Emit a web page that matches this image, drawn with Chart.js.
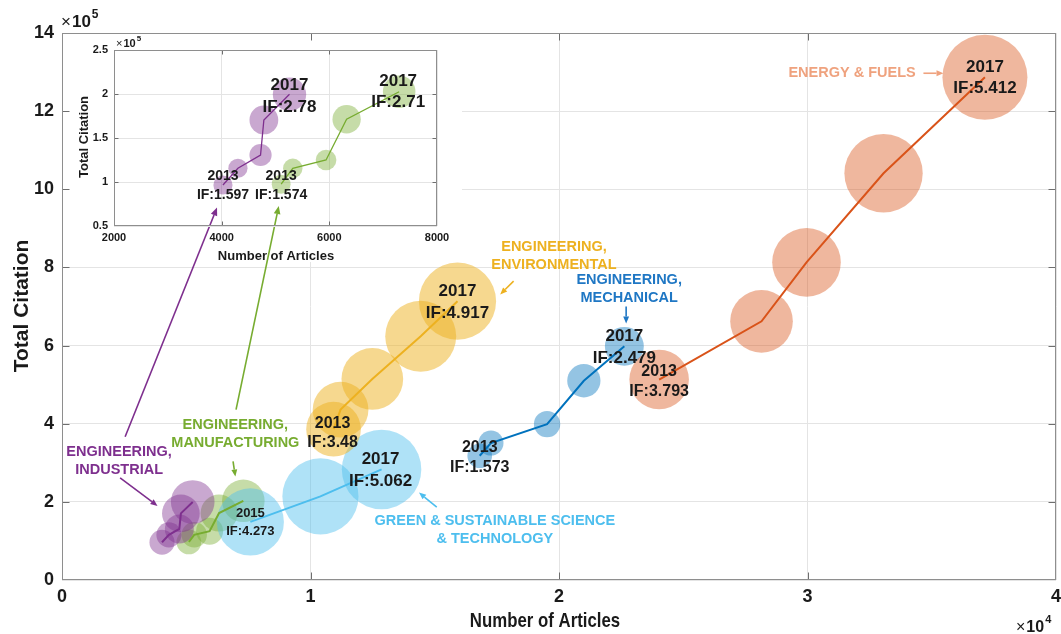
<!DOCTYPE html>
<html>
<head>
<meta charset="utf-8">
<title>Total Citation vs Number of Articles</title>
<script src="https://cdn.jsdelivr.net/npm/chart.js@4.4.1/dist/chart.umd.min.js"></script>
<style>
  html, body { margin: 0; padding: 0; background: #ffffff; }
  #wrap { position: relative; width: 1061px; height: 634px; overflow: hidden; background: #ffffff; }
  #main  { position: absolute; left: 0; top: 0; }
  #inset { position: absolute; left: 63px; top: 34px; }
</style>
</head>
<body>
<div id="wrap">
  <canvas id="main" width="1061" height="634"></canvas>
  <canvas id="inset" width="400" height="229"></canvas>
</div>
<script>
// ---------------- data ----------------
const YEARS = [2013, 2014, 2015, 2016, 2017];
const GSST_YEARS = [2015, 2016, 2017];

// Energy & Fuels
const energyArticles  = [24030, 28150, 29960, 33060, 37140];
const energyCitations = [513000, 662000, 813000, 1041000, 1287000];
const energyIF        = [3.793, 3.99, 4.37, 4.99, 5.412];

// Engineering, Environmental
const envArticles  = [10927, 11210, 12488, 14435, 15915];
const envCitations = [386000, 436000, 514600, 623800, 713600];
const envIF        = [3.48, 3.55, 3.93, 4.52, 4.917];

// Engineering, Mechanical
const mechArticles  = [16810, 17260, 19520, 21000, 22630];
const mechCitations = [318000, 350500, 399000, 510000, 598000];
const mechIF        = [1.573, 1.6, 1.68, 2.12, 2.479];

// Green & Sustainable Science & Technology
const gsstArticles  = [7580, 10400, 12860];
const gsstCitations = [148700, 214000, 283000];
const gsstIF        = [4.273, 4.85, 5.062];

// Engineering, Industrial
const indArticles  = [4024, 4302, 4722, 4784, 5260];
const indCitations = [96600, 115600, 130700, 170500, 199700];
const indIF        = [1.597, 1.6, 1.85, 2.4, 2.78];

// Engineering, Manufacturing
const manArticles  = [5105, 5321, 5939, 6321, 7297];
const manCitations = [97500, 115600, 125000, 171300, 202600];
const manIF        = [1.574, 1.62, 1.72, 2.36, 2.71];

// Axis ticks
const MAIN_X_TICKS  = [0, 10000, 20000, 30000, 40000];
const MAIN_Y_TICKS  = [0, 200000, 400000, 600000, 800000, 1000000, 1200000, 1400000];
const INSET_X_TICKS = [2000, 4000, 6000, 8000];
const INSET_Y_TICKS = [50000, 100000, 150000, 200000, 250000];

// ---------------- styling ----------------
const FONT = "'Liberation Sans', Arial, Helvetica, sans-serif";
const BLACK = '#1a1a1a';
const GRID = '#e4e4e4';
const FRAME = '#8e8e8e';
const TICKMARK = '#6e6e6e';
const MAIN_R_PER_IF = 7.85;   // bubble radius (px) per unit of impact factor
const INSET_R_PER_IF = 6.0;

const SERIES = {
  energy: { articles: energyArticles, citations: energyCitations, impact: energyIF, years: YEARS, line: '#D95319', fill: 'rgba(217,83,25,0.42)' },
  env:    { articles: envArticles,    citations: envCitations,    impact: envIF,    years: YEARS, line: '#EDB120', fill: 'rgba(237,177,32,0.5)' },
  mech:   { articles: mechArticles,   citations: mechCitations,   impact: mechIF,   years: YEARS, line: '#0072BD', fill: 'rgba(0,114,189,0.42)' },
  gsst:   { articles: gsstArticles,   citations: gsstCitations,   impact: gsstIF,   years: GSST_YEARS, line: '#4DBEEE', fill: 'rgba(77,190,238,0.45)' },
  ind:    { articles: indArticles,    citations: indCitations,    impact: indIF,    years: YEARS, line: '#7E2F8E', fill: 'rgba(126,47,142,0.42)' },
  man:    { articles: manArticles,    citations: manCitations,    impact: manIF,    years: YEARS, line: '#77AC30', fill: 'rgba(119,172,48,0.42)' }
};

function seriesDatasets(keys, rScale, lineWidth) {
  const out = [];
  keys.forEach(k => {
    const s = SERIES[k];
    out.push({
      type: 'line',
      data: s.articles.map((a, i) => ({ x: a, y: s.citations[i] })),
      borderColor: s.line, borderWidth: lineWidth,
      pointRadius: 0, fill: false, tension: 0, order: 0
    });
    out.push({
      type: 'bubble',
      data: s.articles.map((a, i) => ({ x: a, y: s.citations[i], r: s.impact[i] * rScale })),
      backgroundColor: s.fill, borderWidth: 0, hoverRadius: 0, order: 1
    });
  });
  return out;
}

// Year / impact-factor captions placed on their bubbles (pixel offsets from the bubble centre)
const MAIN_POINT_LABELS = [
  { key: 'energy', idx: 0, dx: 0,  dy: [-8, 12],    size: 16 },
  { key: 'energy', idx: 4, dx: 0,  dy: [-10, 11],   size: 17 },
  { key: 'env',    idx: 0, dx: -1, dy: [-6, 13],    size: 16 },
  { key: 'env',    idx: 4, dx: 0,  dy: [-10, 12.5], size: 17 },
  { key: 'mech',   idx: 0, dx: 0,  dy: [-8, 12],    size: 16 },
  { key: 'mech',   idx: 4, dx: 0,  dy: [-10, 11.5], size: 17 },
  { key: 'gsst',   idx: 0, dx: 0,  dy: [-8, 10],    size: 13 },
  { key: 'gsst',   idx: 2, dx: -1, dy: [-10, 12],   size: 17 }
];
const INSET_POINT_LABELS = [
  { key: 'ind', idx: 0, dx: 0,  dy: [-9, 10],  size: 14 },
  { key: 'ind', idx: 4, dx: 0,  dy: [-9, 13],  size: 17 },
  { key: 'man', idx: 0, dx: 0,  dy: [-8, 11],  size: 14 },
  { key: 'man', idx: 4, dx: -1, dy: [-10, 11], size: 17 }
];

// Subject-category captions (anchored in data coordinates of the main axes)
const CATEGORY_LABELS = [
  { lines: ['ENERGY & FUELS'], x: 31794, y: 1297000, color: '#EFA27E' },
  { lines: ['ENGINEERING,', 'ENVIRONMENTAL'], x: 19798, y: 829500, color: '#EDB120' },
  { lines: ['ENGINEERING,', 'MECHANICAL'], x: 22823, y: 743600, color: '#1F77C4' },
  { lines: ['GREEN & SUSTAINABLE SCIENCE', '& TECHNOLOGY'], x: 17419, y: 126900, color: '#4DBEEE' },
  { lines: ['ENGINEERING,', 'MANUFACTURING'], x: 6976, y: 374900, color: '#77AC30' },
  { lines: ['ENGINEERING,', 'INDUSTRIAL'], x: 2298, y: 305000, color: '#7E2F8E' }
];

// Pointer arrows: from (x1,y1) to the head at (x2,y2), main data coordinates
const ARROWS = [
  { x1: 34665, y1: 1297000, x2: 35472, y2: 1297000, color: '#EFA27E', head: 7 },
  { x1: 18173, y1: 764900,  x2: 17633, y2: 730800,  color: '#EDB120', head: 7 },
  { x1: 22702, y1: 700000,  x2: 22702, y2: 656400,  color: '#1F77C4', head: 7 },
  { x1: 15081, y1: 186400,  x2: 14367, y2: 223800,  color: '#4DBEEE', head: 7 },
  { x1: 6883,  y1: 303300,  x2: 6976,  y2: 264900,  color: '#77AC30', head: 7 },
  { x1: 2339,  y1: 261500,  x2: 3843,  y2: 189700,  color: '#7E2F8E', head: 7 },
  { x1: 7004,  y1: 435900,  x2: 8722,  y2: 957200,  color: '#77AC30', head: 8 },
  { x1: 2540,  y1: 366700,  x2: 6238,  y2: 953100,  color: '#7E2F8E', head: 8 }
];

// ---------------- drawing helpers ----------------
function drawFrame(chart, xTicks, yTicks, tickLen) {
  const { ctx, chartArea: a, scales: { x, y } } = chart;
  const L = Math.round(a.left) + 0.5, R = Math.round(a.right) - 0.5;
  const T = Math.round(a.top) + 0.5, B = Math.round(a.bottom) - 0.5;
  ctx.save();
  ctx.lineWidth = 1;
  ctx.strokeStyle = TICKMARK;
  ctx.beginPath();
  xTicks.forEach(v => {
    const px = Math.round(x.getPixelForValue(v)) + 0.5;
    if (px <= L + 1 || px >= R - 1) return;
    ctx.moveTo(px, B); ctx.lineTo(px, B - tickLen);
    ctx.moveTo(px, T); ctx.lineTo(px, T + tickLen);
  });
  yTicks.forEach(v => {
    const py = Math.round(y.getPixelForValue(v)) + 0.5;
    if (py <= T + 1 || py >= B - 1) return;
    ctx.moveTo(L, py); ctx.lineTo(L + tickLen, py);
    ctx.moveTo(R, py); ctx.lineTo(R - tickLen, py);
  });
  ctx.stroke();
  ctx.strokeStyle = FRAME;
  ctx.strokeRect(L, T, R - L, B - T);
  ctx.restore();
}

function drawArrow(ctx, x1, y1, x2, y2, color, head) {
  const ang = Math.atan2(y2 - y1, x2 - x1);
  const hx = x2 - head * Math.cos(ang), hy = y2 - head * Math.sin(ang);
  const w = head * 0.42;
  ctx.save();
  ctx.strokeStyle = color; ctx.fillStyle = color; ctx.lineWidth = 1.6;
  ctx.beginPath(); ctx.moveTo(x1, y1); ctx.lineTo(hx, hy); ctx.stroke();
  ctx.beginPath();
  ctx.moveTo(x2, y2);
  ctx.lineTo(hx + w * Math.sin(ang), hy - w * Math.cos(ang));
  ctx.lineTo(hx - w * Math.sin(ang), hy + w * Math.cos(ang));
  ctx.closePath(); ctx.fill();
  ctx.restore();
}

function drawPointLabels(chart, list) {
  const { ctx, scales: { x, y } } = chart;
  ctx.save();
  ctx.fillStyle = BLACK;
  ctx.textAlign = 'center';
  ctx.textBaseline = 'middle';
  list.forEach(l => {
    const s = SERIES[l.key];
    const px = x.getPixelForValue(s.articles[l.idx]) + l.dx;
    const py = y.getPixelForValue(s.citations[l.idx]);
    ctx.font = `bold ${l.size}px ${FONT}`;
    ctx.fillText(String(s.years[l.idx]), px, py + l.dy[0]);
    ctx.fillText('IF:' + s.impact[l.idx], px, py + l.dy[1]);
  });
  ctx.restore();
}

function drawMultiplier(ctx, x, baseline, exponent, size, expSize, rise) {
  ctx.save();
  ctx.fillStyle = BLACK;
  ctx.textAlign = 'left';
  ctx.textBaseline = 'alphabetic';
  ctx.font = `${size}px ${FONT}`;
  ctx.fillText('\u00D7', x, baseline);
  const wx = ctx.measureText('\u00D7').width;
  ctx.font = `bold ${size}px ${FONT}`;
  ctx.fillText('10', x + wx + 1, baseline);
  const w10 = ctx.measureText('10').width;
  ctx.font = `bold ${expSize}px ${FONT}`;
  ctx.fillText(String(exponent), x + wx + 1 + w10 + 1, baseline - rise);
  ctx.restore();
}

function drawAxisTitle(ctx, text, cx, cy, size, rotate, squeeze) {
  ctx.save();
  ctx.translate(cx, cy);
  if (rotate) ctx.rotate(-Math.PI / 2);
  if (squeeze) ctx.scale(squeeze, 1);
  ctx.fillStyle = BLACK;
  ctx.font = `bold ${size}px ${FONT}`;
  ctx.textAlign = 'center';
  ctx.textBaseline = 'middle';
  ctx.fillText(text, 0, 0);
  ctx.restore();
}

// ---------------- main chart ----------------
const mainDecor = {
  id: 'mainDecor',
  beforeDatasetsDraw(chart) {
    // blank panel that holds the inset axes
    const { ctx } = chart;
    ctx.save();
    ctx.fillStyle = '#ffffff';
    ctx.fillRect(63, 34, 399, 228);
    ctx.restore();
  },
  afterDatasetsDraw(chart) {
    const { ctx, scales: { x, y } } = chart;
    drawFrame(chart, MAIN_X_TICKS, MAIN_Y_TICKS, 7);
    drawPointLabels(chart, MAIN_POINT_LABELS);

    ctx.save();
    ctx.textAlign = 'center';
    ctx.textBaseline = 'middle';
    ctx.font = `bold 14.5px ${FONT}`;
    CATEGORY_LABELS.forEach(c => {
      const cx = x.getPixelForValue(c.x), cy = y.getPixelForValue(c.y);
      const lh = 18;
      const y0 = cy - (c.lines.length - 1) * lh / 2;
      ctx.fillStyle = c.color;
      c.lines.forEach((t, i) => ctx.fillText(t, cx, y0 + i * lh));
    });
    ctx.restore();

    ARROWS.forEach(a => drawArrow(ctx,
      x.getPixelForValue(a.x1), y.getPixelForValue(a.y1),
      x.getPixelForValue(a.x2), y.getPixelForValue(a.y2), a.color, a.head));

    drawAxisTitle(ctx, 'Total Citation', 22, 306, 21, true);
    drawAxisTitle(ctx, 'Number of Articles', 545, 621, 21, false, 0.8);
    drawMultiplier(ctx, 61, 27, 5, 17, 12, 9);
    drawMultiplier(ctx, 1016, 632, 4, 16, 11, 9);
  }
};

new Chart(document.getElementById('main'), {
  type: 'bubble',
  data: { datasets: seriesDatasets(['energy', 'env', 'mech', 'gsst', 'ind', 'man'], MAIN_R_PER_IF, 2) },
  options: {
    responsive: false, animation: false, devicePixelRatio: 1, events: [],
    layout: { autoPadding: false, padding: { top: 33, right: 5, left: 0, bottom: 0 } },
    plugins: { legend: { display: false }, tooltip: { enabled: false } },
    scales: {
      x: {
        type: 'linear', position: 'bottom', min: 0, max: 40000,
        afterBuildTicks: s => { s.ticks = MAIN_X_TICKS.map(v => ({ value: v })); },
        ticks: { callback: v => String(v / 10000), font: { family: FONT, size: 18, weight: 'bold' }, color: BLACK, padding: 6, maxRotation: 0, autoSkip: false },
        grid: { color: GRID, drawTicks: false, lineWidth: 1 },
        border: { display: false },
        afterFit: s => { s.height = 54; s.paddingLeft = 0; s.paddingRight = 0; }
      },
      y: {
        type: 'linear', position: 'left', min: 0, max: 1400000,
        afterBuildTicks: s => { s.ticks = MAIN_Y_TICKS.map(v => ({ value: v })); },
        ticks: { callback: v => String(v / 100000), font: { family: FONT, size: 18, weight: 'bold' }, color: BLACK, padding: 8, autoSkip: false },
        grid: { color: GRID, drawTicks: false, lineWidth: 1 },
        border: { display: false },
        afterFit: s => { s.width = 62; s.paddingTop = 0; s.paddingBottom = 0; }
      }
    }
  },
  plugins: [mainDecor]
});

// ---------------- inset chart ----------------
const insetDecor = {
  id: 'insetDecor',
  afterDatasetsDraw(chart) {
    const { ctx } = chart;
    drawFrame(chart, INSET_X_TICKS, INSET_Y_TICKS, 4);
    drawPointLabels(chart, INSET_POINT_LABELS);
    drawAxisTitle(ctx, 'Total Citation', 21, 103, 13, true);
    drawAxisTitle(ctx, 'Number of Articles', 213, 222, 13, false);
    drawMultiplier(ctx, 53, 13, 5, 11, 8, 6);
  }
};

new Chart(document.getElementById('inset'), {
  type: 'bubble',
  data: { datasets: seriesDatasets(['ind', 'man'], INSET_R_PER_IF, 1.3) },
  options: {
    responsive: false, animation: false, devicePixelRatio: 1, events: [],
    layout: { autoPadding: false, padding: { top: 16, right: 26, left: 0, bottom: 0 } },
    plugins: { legend: { display: false }, tooltip: { enabled: false } },
    scales: {
      x: {
        type: 'linear', position: 'bottom', min: 2000, max: 8000,
        afterBuildTicks: s => { s.ticks = INSET_X_TICKS.map(v => ({ value: v })); },
        ticks: { callback: v => String(v), font: { family: FONT, size: 11, weight: 'bold' }, color: BLACK, padding: 5, maxRotation: 0, autoSkip: false },
        grid: { color: GRID, drawTicks: false, lineWidth: 1 },
        border: { display: false },
        afterFit: s => { s.height = 37; s.paddingLeft = 0; s.paddingRight = 0; }
      },
      y: {
        type: 'linear', position: 'left', min: 50000, max: 250000,
        afterBuildTicks: s => { s.ticks = INSET_Y_TICKS.map(v => ({ value: v })); },
        ticks: { callback: v => String(v / 100000), font: { family: FONT, size: 11, weight: 'bold' }, color: BLACK, padding: 6, autoSkip: false },
        grid: { color: GRID, drawTicks: false, lineWidth: 1 },
        border: { display: false },
        afterFit: s => { s.width = 51; s.paddingTop = 0; s.paddingBottom = 0; }
      }
    }
  },
  plugins: [insetDecor]
});
</script>
</body>
</html>
